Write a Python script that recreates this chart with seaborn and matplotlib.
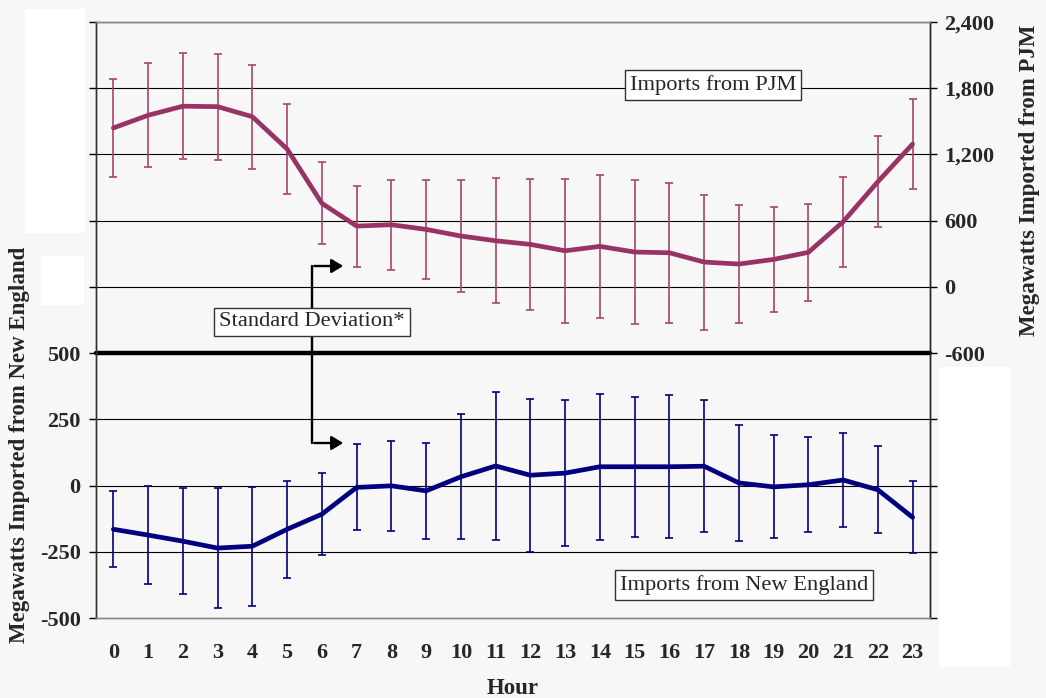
import matplotlib
matplotlib.use("Agg")
import matplotlib.pyplot as plt
from matplotlib.patches import Rectangle, FancyArrowPatch
from matplotlib.lines import Line2D
import numpy as np
import pandas as pd
import seaborn as sns

# Hourly average net imports (MW) and their standard deviations
hours = list(range(24))
pjm_mean = [1440, 1555, 1637, 1633, 1542, 1249, 757, 551, 563, 521, 461, 418,
            385, 327, 367, 316, 309, 225, 207, 249, 313, 590, 953, 1294]
pjm_sd = [440, 472, 480, 479, 471, 405, 372, 367, 409, 447, 504, 565,
          596, 654, 650, 650, 633, 612, 533, 476, 441, 407, 413, 406]
ne_mean = [-165, -187, -210, -236, -229, -165, -108, -7, -1, -20, 33, 74,
           39, 47, 71, 71, 71, 73, 10, -5, 3, 21, -16, -120]
ne_sd = [143, 185, 201, 225, 225, 183, 156, 162, 170, 180, 236, 278,
         288, 276, 275, 265, 269, 250, 220, 194, 179, 178, 164, 136]

left_ticks = [-500, -250, 0, 250, 500]
right_ticks = [-600, 0, 600, 1200, 1800, 2400]

PJM_COLOR = "#993366"
PJM_ERR = "#a8446f"
NE_COLOR = "#000080"
BG = "#f7f7f7"

sns.set_style("white")
plt.rcParams["font.family"] = ["Liberation Serif", "DejaVu Serif"]

W, H = 1046, 698
fig = plt.figure(figsize=(W / 100, H / 100), dpi=100, facecolor=BG)
ax = fig.add_axes([96 / W, 1 - 618 / H, (930 - 96) / W, (618 - 22) / H])
ax.set_facecolor(BG)
ax2 = ax.twinx()

ne_df = pd.DataFrame({"hour": hours, "mw": ne_mean})
pjm_df = pd.DataFrame({"hour": hours, "mw": pjm_mean})

# left axis: New England, right axis: PJM, sharing the same gridlines
ax.set_xlim(-0.5, 23.5)
ax.set_ylim(-500, 1750)
ax2.set_ylim(-3000, 2400)

left_all = np.arange(-500, 1751, 250)
right_all = np.arange(-3000, 2401, 600)
ax.set_yticks(left_all)
ax.set_yticklabels([f"{v:,}" if v in left_ticks else "" for v in left_all])
ax2.set_yticks(right_all)
ax2.set_yticklabels([f"{v:,}" if v in right_ticks else "" for v in right_all])

for v in np.arange(-250, 1751, 250):
    if v == 500:
        continue
    ax.axhline(v, color="black", lw=0.8, zorder=0.5)
ax.axhline(500, color="black", lw=3.2, zorder=1.5, clip_on=False)

ax.errorbar(hours, ne_mean, yerr=ne_sd, fmt="none", ecolor=NE_COLOR,
            elinewidth=1.2, capsize=2.7, capthick=1.2, zorder=2)
sns.lineplot(data=ne_df, x="hour", y="mw", ax=ax, color=NE_COLOR, lw=3.4, zorder=3)

ax2.errorbar(hours, pjm_mean, yerr=pjm_sd, fmt="none", ecolor=PJM_ERR,
             elinewidth=1.2, capsize=2.7, capthick=1.2, zorder=2)
sns.lineplot(data=pjm_df, x="hour", y="mw", ax=ax2, color=PJM_COLOR, lw=3.4, zorder=3)

ax.set_xticks(hours)
ax.set_xticklabels([str(h) for h in hours])
ax.set_xlabel("")
ax.set_ylabel("")
ax2.set_ylabel("")

TICK_FS = 16
for lab in ax.get_xticklabels() + ax.get_yticklabels() + ax2.get_yticklabels():
    lab.set_fontsize(TICK_FS)
    lab.set_fontweight("bold")
ax.tick_params(axis="x", length=0, pad=18)
ax.tick_params(axis="y", length=5, width=1, color="black", pad=6, direction="out", left=True)
ax2.tick_params(axis="y", length=5, width=1, color="black", pad=5, direction="out", right=True)

for a in (ax, ax2):
    a.spines["top"].set_color("#888888")
    a.spines["bottom"].set_color("#888888")
    a.spines["left"].set_color("#333333")
    a.spines["right"].set_color("#222222")
    for s in a.spines.values():
        s.set_linewidth(1.0)

def px(x, y):
    return (x / W, 1 - y / H)

LAB_FS = 16.5
fig.text(*px(513, 689), "Hour", ha="center", va="center", fontsize=LAB_FS, fontweight="bold")
fig.text(*px(20, 445), "Megawatts Imported from New England", rotation=90,
         ha="center", va="center", fontsize=LAB_FS, fontweight="bold")
fig.text(*px(1030, 180), "Megawatts Imported from PJM", rotation=90,
         ha="center", va="center", fontsize=LAB_FS, fontweight="bold")

BOX_FS = 16.2
box = dict(boxstyle="square,pad=0.22", fc="white", ec="#333333", lw=1.0)
fig.text(*px(713, 85), "Imports from PJM", ha="center", va="center", fontsize=BOX_FS, bbox=box, zorder=10)
fig.text(*px(744, 585), "Imports from New England", ha="center", va="center", fontsize=BOX_FS, bbox=box, zorder=10)

# bracket pointing at both sets of error bars
fig.add_artist(Line2D([312 / W, 312 / W], [1 - 266 / H, 1 - 443 / H], color="black", lw=1.7, zorder=8))
for yy in (266, 443):
    fig.add_artist(FancyArrowPatch(
        px(311.4, yy), px(346, yy), transform=fig.transFigure,
        arrowstyle="-|>,head_length=5,head_width=3", color="black", lw=1.7,
        mutation_scale=1.4, zorder=8))
fig.text(*px(312, 322), "Standard Deviation*", ha="center", va="center", fontsize=BOX_FS, bbox=box, zorder=10)

# blank panels over unused tick label areas
for (x0, y0, x1, y1) in [(25, 9, 85, 233), (41, 256, 84, 305), (939, 367, 1010, 667)]:
    fig.add_artist(Rectangle(px(x0, y1), (x1 - x0) / W, (y1 - y0) / H,
                             transform=fig.transFigure, fc="white", ec="none", zorder=20))

fig.savefig("out.png", dpi=100, facecolor=BG)
